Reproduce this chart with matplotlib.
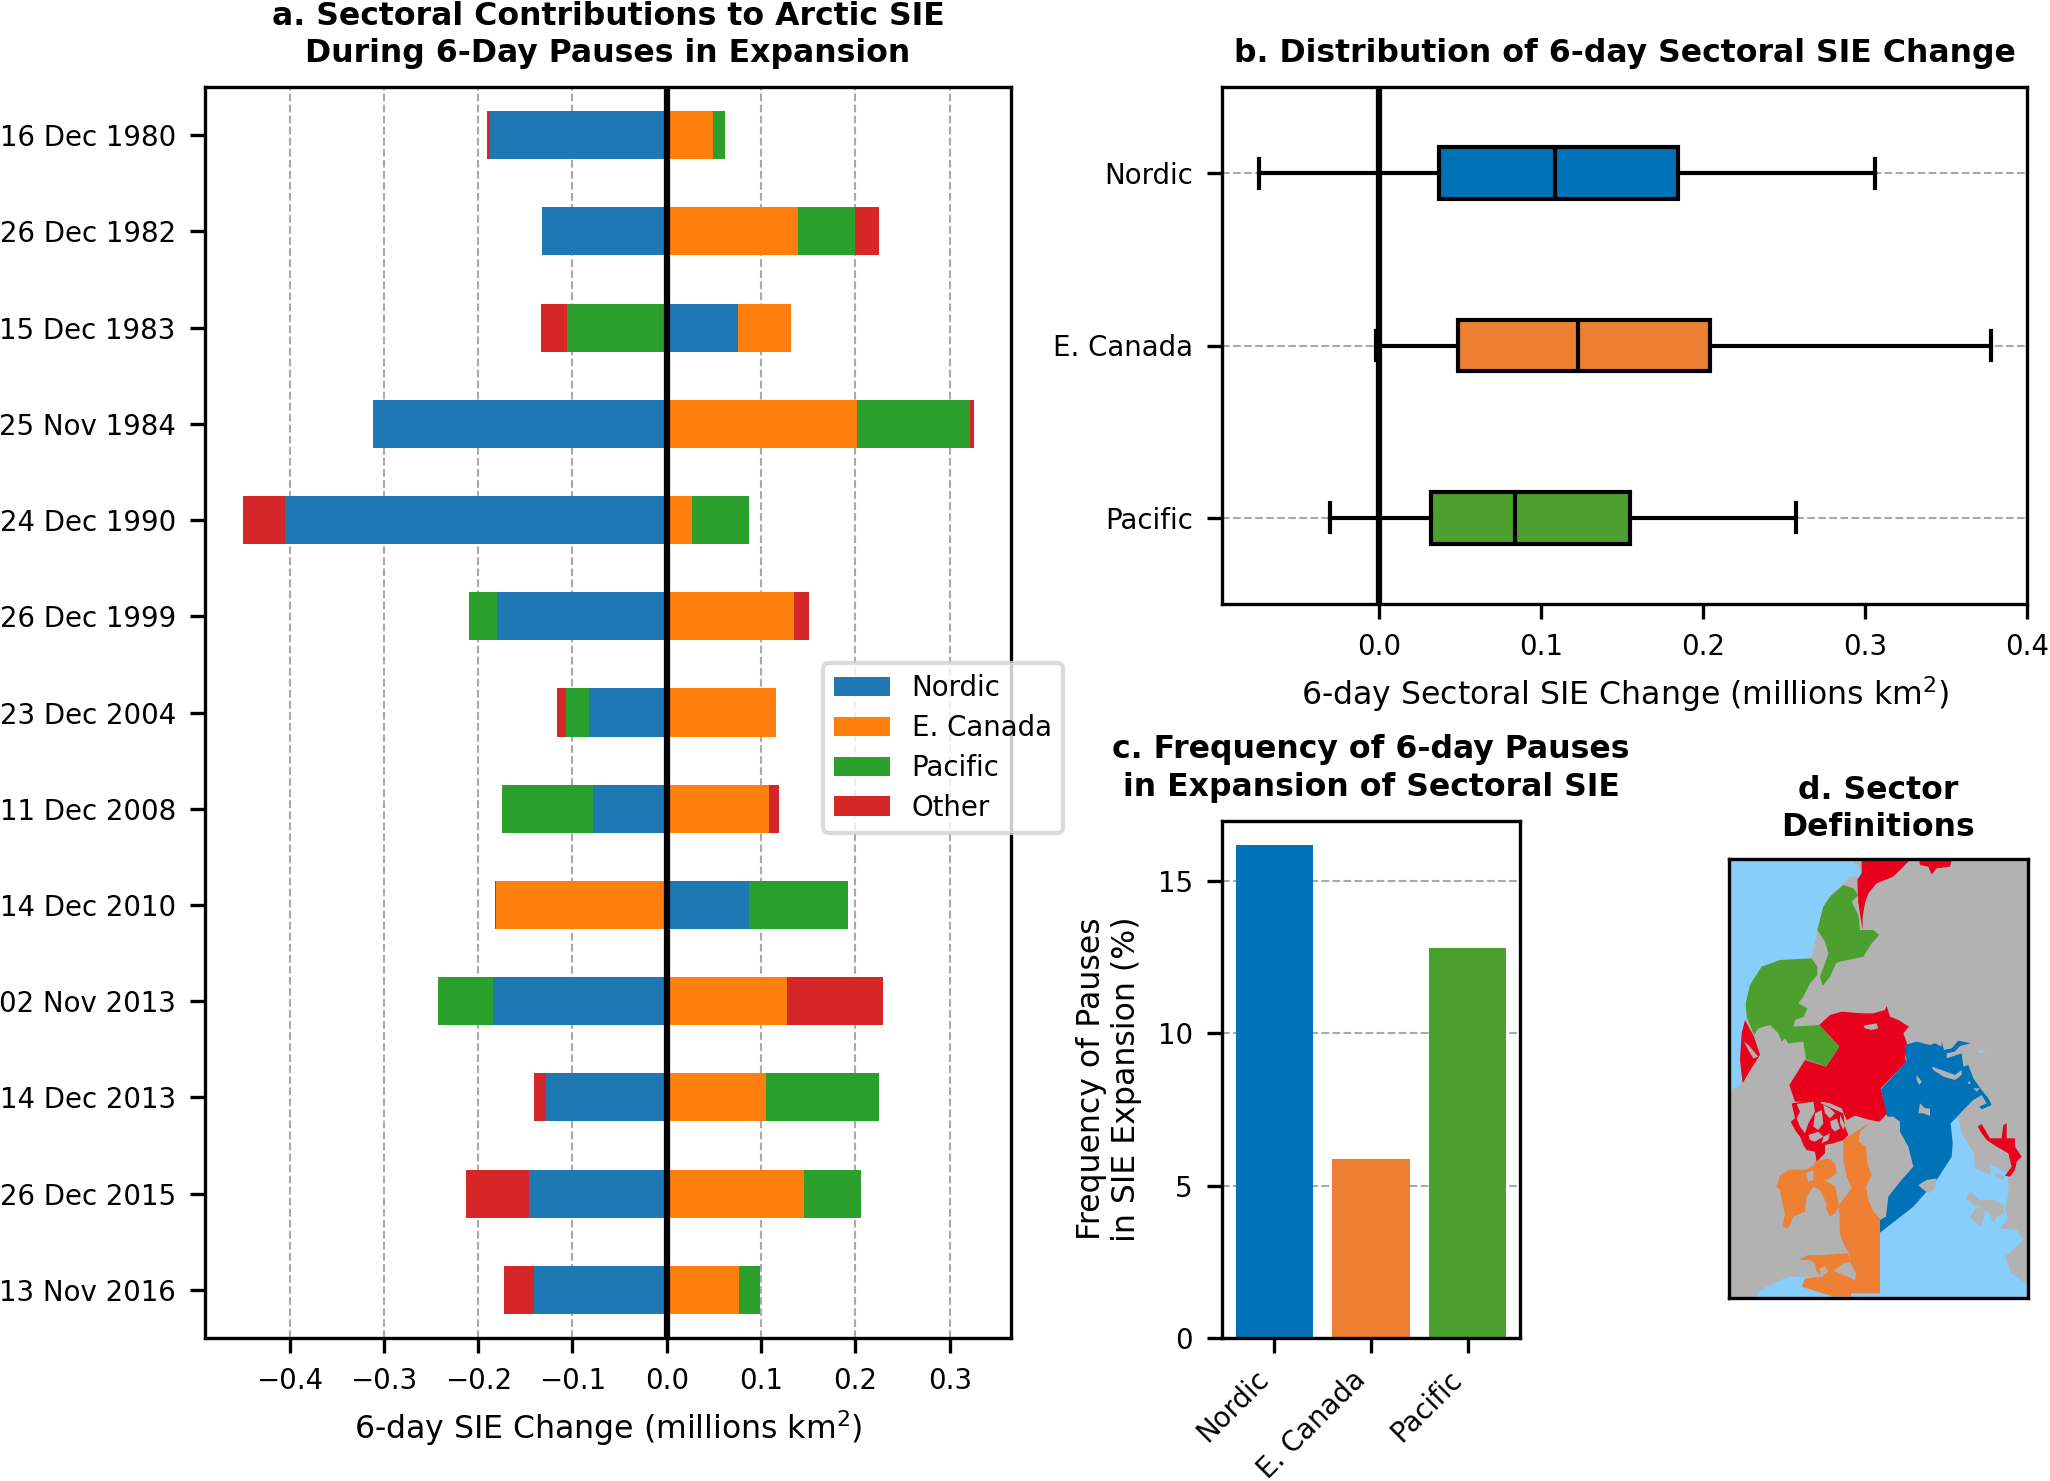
from matplotlib import pyplot as plt
import numpy as np

# panel a
dates = ['16 Dec 1980', '26 Dec 1982', '15 Dec 1983', '25 Nov 1984', '24 Dec 1990', '26 Dec 1999', '23 Dec 2004',
         '11 Dec 2008', '14 Dec 2010', '02 Nov 2013', '14 Dec 2013', '26 Dec 2015', '13 Nov 2016']
nordic = [-0.1877, -0.132, 0.076, -0.312, -0.405, -0.1803, -0.0825, -0.0781, 0.0869, -0.1842, -0.1277, -0.1458, -0.141]
ecanada = [0.0495, 0.1396, 0.056, 0.2017, 0.027, 0.135, 0.1153, 0.1088, -0.181, 0.1277, 0.1047, 0.1458, 0.0768]
pacific = [0.0119, 0.06, -0.1054, 0.12, 0.0599, -0.0299, -0.0248, -0.0964, 0.1058, -0.0579, 0.1207, 0.0601, 0.0223]
other = [-0.0028, 0.0258, -0.0279, 0.0042, -0.0444, 0.016, -0.0095, 0.0102, -0.0015, 0.1019, -0.0133, -0.067, -0.0314]

# panel b: low whisker, q1, median, q3, high whisker
sectors = ['Nordic', 'E. Canada', 'Pacific']
box_nordic = [-0.0744, 0.037, 0.1087, 0.1843, 0.306]
box_ecanada = [-0.002, 0.0486, 0.1226, 0.2042, 0.378]
box_pacific = [-0.0307, 0.0318, 0.0836, 0.1549, 0.2576]

# panel c
freq = [16.18, 5.88, 12.8]

# panel d, outlines read off the map. three groups, each measured from its own corner
# north-west part
nw_ocean = [[(0,0),(365,0),(395,30),(385,50),(360,50),(335,75),(300,110),(280,140),(262,210),(250,270),(245,295),(95,320),(60,375),(47,430),(50,470),(35,520),(30,600),(38,670),(15,685),(0,690)]]
nw_red = [
    [(395,0),(540,0),(490,50),(440,70),(415,100),(405,130),(398,170),(398,210),(385,130),(382,60),(395,40)],
    [(567,0),(665,0),(660,20),(620,25),(605,43),(595,20),(570,15)],
    [(45,480),(72,530),(90,585),(55,640),(38,670),(30,600),(35,520)],
    [(268,495),(300,465),(335,455),(395,460),(430,460),(465,450),(470,437),(480,470),(505,480),(537,500),(520,520),(533,555),(525,595),(530,605),(452,685),(473,760),(448,785),(420,780),(375,767),(350,780),(335,745),(300,730),(275,725),(265,740),(250,725),(225,725),(195,725),(178,675),(225,600),(288,620),(328,560)],
]
nw_green = [
    [(340,75),(370,85),(385,105),(365,125),(385,165),(390,210),(430,210),(448,225),(425,250),(400,290),(330,305),(318,310),(300,350),(278,378),(270,350),(285,310),(295,280),(285,245),(262,210),(280,140),(300,110)],
    [(95,320),(150,300),(245,295),(262,320),(262,345),(240,370),(220,410),(205,430),(232,445),(222,470),(195,480),(190,500),(268,495),(328,560),(288,620),(228,598),(220,545),(175,550),(165,535),(155,545),(145,520),(120,495),(85,505),(72,525),(50,470),(47,430),(60,375)],
]
nw_land = [
    [(42,545),(55,555),(85,590),(70,595),(55,570)],
    [(400,497),(440,490),(445,505),(425,510),(405,505)],
]
# south-west part
sw_ocean = [[(-75,655),(-60,632),(-30,615),(25,590),(67,590),(300,600),(300,655)]]
sw_red = [[(35,70),(100,60),(190,100),(195,140),(205,165),(190,180),(160,190),(135,195),(135,220),(110,245),(105,215),(80,210),(70,195),(60,170),(45,150),(32,125),(45,115)]]
sw_orange = [
    [(-10,320),(0,285),(30,268),(75,270),(100,258),(105,245),(145,235),(165,250),(170,280),(150,295),(135,300),(165,320),(175,365),(178,378),(165,400),(150,410),(138,385),(140,370),(120,330),(100,320),(80,350),(75,395),(40,410),(25,445),(8,440),(15,400),(5,360),(0,330)],
    [(190,180),(235,150),(275,125),(240,155),(235,185),(258,200),(262,250),(275,285),(258,320),(265,360),(280,395),(300,415),(300,640),(213,640),(213,650),(160,650),(65,620),(75,595),(125,590),(160,572),(225,600),(228,580),(210,545),(207,520),(190,490),(180,460),(178,400),(175,378),(215,325),(200,290),(190,240)],
    [(55,540),(85,525),(130,525),(205,520),(210,545),(190,550),(165,570),(130,590),(110,575),(105,550),(90,540)],
]
sw_land = [
    [(50,72),(100,65),(105,95),(85,130),(75,160),(60,140),(50,115),(60,95)],
    [(105,100),(125,90),(130,130),(115,150),(100,140)],
    [(130,75),(150,85),(165,100),(150,115),(135,100)],
    [(150,125),(170,115),(180,145),(165,155),(155,145)],
    [(85,165),(115,155),(130,170),(105,185),(90,180)],
    [(130,170),(150,160),(145,180),(125,190)],
    [(180,105),(195,135),(190,150),(180,130)],
    [(78,280),(100,270),(100,300),(85,305)],
    [(118,565),(135,560),(145,575),(125,590)],
]
# south-east part
se_ocean = [
    [(0,668),(100,590),(170,510),(215,440),(218,400),(212,340),(235,320),(245,370),(280,425),(285,475),(330,495),(332,465),(385,490),(385,550),(375,600),(385,625),(360,655),(410,660),(430,690),(375,740),(395,790),(438,820),(445,870),(0,870)],
    [(285,125),(320,118),(305,130)],
]
se_blue = [[(3,237),(80,155),(75,105),(110,95),(150,105),(165,100),(185,110),(185,95),(192,120),(215,115),(235,92),(272,100),(240,108),(225,125),(200,130),(200,145),(245,130),(250,170),(265,165),(280,205),(305,240),(325,265),(335,285),(305,298),(298,290),(320,280),(305,255),(280,270),(250,300),(212,340),(218,400),(215,440),(170,510),(100,590),(0,668),(0,630),(18,620),(25,560),(60,515),(100,470),(85,410),(60,365),(60,335),(40,320),(22,320)]]
se_red = [[(293,350),(305,342),(330,385),(365,385),(370,345),(380,340),(380,385),(405,385),(405,410),(425,440),(410,455),(405,480),(390,500),(375,497),(395,470),(385,430),(350,410),(320,390),(305,370)]]
se_land = [
    [(155,170),(185,180),(225,195),(245,180),(245,195),(225,210),(190,200),(160,180)],
    [(115,310),(120,280),(135,295),(150,295),(150,318),(130,310)],
    [(115,525),(140,510),(170,505),(165,535),(145,550),(125,535)],
    [(110,195),(125,215),(118,225),(110,210)],
    [(265,215),(272,215),(270,222),(265,222)],
    [(280,235),(300,235),(290,245)],
    [(258,565),(270,545),(300,570),(340,570),(370,585),(370,610),(350,620),(340,640),(330,610),(300,590),(280,585)],
    [(270,620),(290,590),(315,600),(310,625),(300,650),(285,635)],
    [(345,490),(375,500),(370,510),(350,500)],
]

tab_colors = ['#1f77b4', '#ff7f0e', '#2ca02c', '#d62728']
box_colors = ['#0072b8', '#ee8033', '#4ba02e']
LAND = '#b2b2b2'
OCEAN = '#87cefa'
RED = '#e8001c'
W, H = 2050, 1481
NW = (1730, 860)
SW = (1780, 1080)
SE = (1880, 1010)


def add_axes(left, right, top, bottom):
    return fig.add_axes([left/W, 1-bottom/H, (right-left)/W, (bottom-top)/H])


def draw_polys(ax, polys, corner, c):
    for poly in polys:
        p = np.array(poly)
        ax.fill(corner[0] + p[:, 0]/3, corner[1] + p[:, 1]/3, color=c, lw=0)


plt.rcParams['font.size'] = 6.65

fig = plt.figure(figsize=(W/300, H/300), dpi=300)

##a
ax1 = add_axes(205, 1011, 87, 1338)
y = np.arange(len(dates))
pos = np.zeros(len(dates))
neg = np.zeros(len(dates))
for vals, c, lab in zip([nordic, ecanada, pacific, other], tab_colors, ['Nordic', 'E. Canada', 'Pacific', 'Other']):
    v = np.array(vals)
    start = np.where(v >= 0, pos, neg)
    ax1.barh(y, v, 0.5, left=start, color=c, label=lab, zorder=2)
    pos = pos + np.where(v >= 0, v, 0)
    neg = neg + np.where(v < 0, v, 0)
ax1.axvline(0, color='k', lw=1.5, zorder=3)
ax1.set_yticks(y)
ax1.set_yticklabels(dates)
ax1.set_ylim(12.5, -0.5)
ax1.set_xlim(-0.4896, 0.365)
ax1.set_xticks([-0.4, -0.3, -0.2, -0.1, 0, 0.1, 0.2, 0.3])
ax1.grid(axis='x', color='darkgrey', ls='--', lw=0.5, zorder=0)
ax1.set_axisbelow(True)
ax1.set_xlabel('6-day SIE Change (millions km$^2$)', fontsize=7.57, labelpad=3.2)
ax1.set_title('a. Sectoral Contributions to Arctic SIE\nDuring 6-Day Pauses in Expansion', fontweight='bold', fontsize=7.57, linespacing=1.25, pad=5.9)
ax1.legend(loc='upper left', bbox_to_anchor=(823/W, 1-663/H), bbox_transform=fig.transFigure, borderaxespad=0, fontsize=6.65, labelspacing=0.43, edgecolor='lightgrey')

##b
ax2 = add_axes(1222, 2027, 87, 604)
stats = []
for b in [box_nordic, box_ecanada, box_pacific]:
    stats.append({'whislo': b[0], 'q1': b[1], 'med': b[2], 'q3': b[3], 'whishi': b[4], 'fliers': []})
bp = ax2.bxp(stats, orientation='horizontal', widths=0.3, capwidths=0.17, patch_artist=True,
             medianprops={'color': 'k', 'lw': 1}, boxprops={'lw': 1}, whiskerprops={'lw': 1}, capprops={'lw': 1}, zorder=2)
for p, c in zip(bp['boxes'], box_colors):
    p.set_facecolor(c)
ax2.axvline(0, color='k', lw=1.5, zorder=3)
ax2.set_yticks([1, 2, 3])
ax2.set_yticklabels(sectors)
ax2.set_ylim(3.5, 0.5)
ax2.set_xlim(-0.0971, 0.4)
ax2.set_xticks([0, 0.1, 0.2, 0.3, 0.4])
ax2.set_xticklabels(['0.0', '0.1', '0.2', '0.3', '0.4'])
ax2.grid(axis='y', color='darkgrey', ls='--', lw=0.5)
ax2.set_axisbelow(True)
ax2.set_xlabel('6-day Sectoral SIE Change (millions km$^2$)', fontsize=7.57, labelpad=3.1)
ax2.set_title('b. Distribution of 6-day Sectoral SIE Change', fontweight='bold', fontsize=7.57, pad=5.9)

##c
ax3 = add_axes(1222, 1520, 820.5, 1338)
ax3.bar(sectors, freq, 0.8, color=box_colors, zorder=2)
ax3.set_yticks([0, 5, 10, 15])
ax3.grid(axis='y', color='darkgrey', ls='--', lw=0.5)
ax3.set_axisbelow(True)
ax3.tick_params(axis='x', pad=3)
plt.setp(ax3.get_xticklabels(), rotation=45, ha='right')
ax3.set_ylabel('Frequency of Pauses\nin SIE Expansion (%)', fontsize=7.57, linespacing=1.16, labelpad=3.7)
ax3.set_title('c. Frequency of 6-day Pauses\nin Expansion of Sectoral SIE', fontweight='bold', fontsize=7.57, linespacing=1.27, pad=5.9)

##d
ax4 = add_axes(1729, 2028, 859, 1298)
ax4.set_facecolor(LAND)
draw_polys(ax4, nw_ocean, NW, OCEAN)
draw_polys(ax4, sw_ocean, SW, OCEAN)
draw_polys(ax4, se_ocean, SE, OCEAN)
draw_polys(ax4, nw_red, NW, RED)
draw_polys(ax4, sw_red, SW, RED)
draw_polys(ax4, se_red, SE, RED)
draw_polys(ax4, nw_green, NW, box_colors[2])
draw_polys(ax4, se_blue, SE, box_colors[0])
draw_polys(ax4, sw_orange, SW, box_colors[1])
draw_polys(ax4, nw_land, NW, LAND)
draw_polys(ax4, sw_land, SW, LAND)
draw_polys(ax4, se_land, SE, LAND)
ax4.set_xlim(1729, 2028)
ax4.set_ylim(1298, 859)
ax4.set_xticks([])
ax4.set_yticks([])
ax4.set_title('d. Sector\nDefinitions', fontweight='bold', fontsize=7.57, linespacing=1.25, pad=5.5)

plt.savefig('out.png', dpi=300)
